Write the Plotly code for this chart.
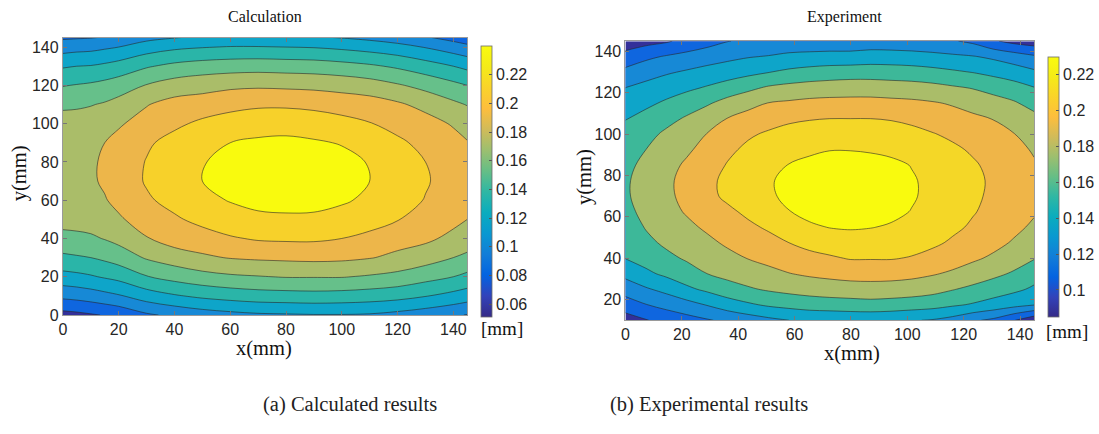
import plotly.graph_objects as go

W, H = 1099, 434

# ---------------- data ----------------
# (a) Calculation: deflection [mm]; rows follow calc_y, columns follow calc_x
calc_x = [0, 5, 10, 15, 20, 30, 40, 50, 60, 70, 80, 90, 100, 110, 120, 130, 140, 145]
calc_y = [0, 10, 20, 30, 40, 50, 60, 70, 80, 90, 100, 110, 120, 130, 140, 145]
calc_z = [
    [0.053, 0.055, 0.058, 0.061, 0.065, 0.077, 0.084, 0.090, 0.094, 0.097, 0.098, 0.099, 0.099, 0.098, 0.094, 0.089, 0.083, 0.079],
    [0.085, 0.087, 0.090, 0.094, 0.098, 0.110, 0.118, 0.124, 0.128, 0.131, 0.132, 0.133, 0.132, 0.130, 0.127, 0.121, 0.114, 0.110],
    [0.113, 0.115, 0.118, 0.122, 0.126, 0.139, 0.147, 0.153, 0.157, 0.159, 0.161, 0.161, 0.161, 0.158, 0.154, 0.147, 0.140, 0.135],
    [0.136, 0.138, 0.140, 0.144, 0.149, 0.162, 0.170, 0.177, 0.181, 0.183, 0.184, 0.185, 0.184, 0.181, 0.176, 0.169, 0.160, 0.156],
    [0.154, 0.155, 0.157, 0.161, 0.166, 0.179, 0.189, 0.191, 0.198, 0.202, 0.203, 0.203, 0.200, 0.195, 0.187, 0.184, 0.175, 0.170],
    [0.167, 0.168, 0.169, 0.173, 0.178, 0.187, 0.197, 0.206, 0.212, 0.216, 0.217, 0.217, 0.214, 0.208, 0.201, 0.191, 0.185, 0.180],
    [0.174, 0.175, 0.176, 0.179, 0.184, 0.197, 0.207, 0.215, 0.221, 0.225, 0.226, 0.225, 0.222, 0.217, 0.209, 0.199, 0.190, 0.185],
    [0.177, 0.177, 0.178, 0.182, 0.187, 0.202, 0.212, 0.220, 0.226, 0.229, 0.230, 0.229, 0.226, 0.220, 0.212, 0.202, 0.191, 0.186],
    [0.177, 0.177, 0.178, 0.182, 0.187, 0.201, 0.212, 0.219, 0.225, 0.228, 0.229, 0.228, 0.225, 0.219, 0.211, 0.200, 0.191, 0.185],
    [0.175, 0.175, 0.176, 0.180, 0.185, 0.197, 0.207, 0.214, 0.220, 0.223, 0.224, 0.222, 0.219, 0.213, 0.204, 0.194, 0.187, 0.181],
    [0.169, 0.169, 0.170, 0.174, 0.178, 0.187, 0.196, 0.204, 0.209, 0.212, 0.213, 0.211, 0.207, 0.201, 0.193, 0.188, 0.178, 0.173],
    [0.156, 0.157, 0.159, 0.162, 0.167, 0.179, 0.187, 0.189, 0.194, 0.197, 0.197, 0.195, 0.191, 0.189, 0.183, 0.174, 0.164, 0.159],
    [0.139, 0.141, 0.143, 0.146, 0.150, 0.161, 0.169, 0.173, 0.176, 0.177, 0.176, 0.175, 0.173, 0.169, 0.162, 0.154, 0.145, 0.140],
    [0.118, 0.120, 0.121, 0.124, 0.128, 0.138, 0.145, 0.149, 0.151, 0.152, 0.151, 0.150, 0.147, 0.143, 0.137, 0.129, 0.120, 0.115],
    [0.091, 0.093, 0.094, 0.097, 0.100, 0.110, 0.116, 0.119, 0.121, 0.121, 0.120, 0.119, 0.116, 0.112, 0.107, 0.099, 0.090, 0.085],
    [0.077, 0.078, 0.079, 0.081, 0.084, 0.094, 0.099, 0.103, 0.104, 0.104, 0.103, 0.102, 0.099, 0.095, 0.089, 0.082, 0.073, 0.068],
]

# (b) Experiment
exp_x = [0, 7.25, 14.5, 21.75, 29, 36.25, 43.5, 50.75, 58, 65.25, 72.5, 79.75, 87, 94.25,
         101.5, 108.75, 116, 123.25, 130.5, 137.75, 145]
exp_y = [10, 17.5, 25, 32.5, 40, 47.5, 55, 62.5, 70, 77.5, 85, 92.5, 100, 107.5, 115, 122.5,
         130, 137.5, 145]
exp_z = [
    [0.087, 0.094, 0.101, 0.106, 0.111, 0.116, 0.121, 0.126, 0.130, 0.132, 0.133, 0.134, 0.134, 0.133, 0.131, 0.129, 0.124, 0.115, 0.109, 0.096, 0.082],
    [0.104, 0.112, 0.118, 0.124, 0.131, 0.139, 0.145, 0.150, 0.153, 0.156, 0.157, 0.158, 0.159, 0.158, 0.156, 0.154, 0.150, 0.146, 0.141, 0.136, 0.131],
    [0.120, 0.128, 0.135, 0.144, 0.151, 0.158, 0.163, 0.167, 0.170, 0.172, 0.174, 0.175, 0.176, 0.175, 0.174, 0.171, 0.166, 0.161, 0.156, 0.151, 0.145],
    [0.135, 0.144, 0.151, 0.158, 0.165, 0.170, 0.174, 0.178, 0.182, 0.185, 0.187, 0.189, 0.189, 0.189, 0.187, 0.184, 0.180, 0.175, 0.169, 0.163, 0.154],
    [0.148, 0.154, 0.161, 0.167, 0.173, 0.178, 0.183, 0.187, 0.191, 0.195, 0.198, 0.201, 0.201, 0.201, 0.199, 0.195, 0.190, 0.185, 0.180, 0.173, 0.166],
    [0.152, 0.161, 0.168, 0.173, 0.179, 0.185, 0.190, 0.195, 0.200, 0.205, 0.208, 0.210, 0.210, 0.209, 0.206, 0.203, 0.198, 0.192, 0.187, 0.181, 0.174],
    [0.156, 0.166, 0.173, 0.179, 0.185, 0.191, 0.197, 0.202, 0.209, 0.215, 0.218, 0.219, 0.218, 0.216, 0.212, 0.208, 0.203, 0.198, 0.192, 0.186, 0.180],
    [0.161, 0.169, 0.177, 0.184, 0.191, 0.197, 0.203, 0.210, 0.217, 0.222, 0.224, 0.225, 0.224, 0.221, 0.217, 0.212, 0.207, 0.201, 0.196, 0.190, 0.184],
    [0.163, 0.171, 0.179, 0.187, 0.196, 0.203, 0.209, 0.215, 0.221, 0.225, 0.227, 0.228, 0.227, 0.224, 0.219, 0.214, 0.209, 0.203, 0.197, 0.191, 0.185],
    [0.163, 0.171, 0.179, 0.188, 0.196, 0.204, 0.210, 0.216, 0.221, 0.225, 0.227, 0.227, 0.227, 0.224, 0.219, 0.214, 0.209, 0.203, 0.198, 0.191, 0.185],
    [0.161, 0.169, 0.177, 0.185, 0.193, 0.201, 0.207, 0.213, 0.218, 0.221, 0.224, 0.224, 0.223, 0.221, 0.217, 0.212, 0.207, 0.202, 0.196, 0.190, 0.184],
    [0.157, 0.165, 0.173, 0.180, 0.188, 0.197, 0.203, 0.208, 0.212, 0.215, 0.217, 0.217, 0.216, 0.214, 0.211, 0.207, 0.203, 0.198, 0.193, 0.187, 0.181],
    [0.152, 0.160, 0.168, 0.175, 0.183, 0.191, 0.198, 0.202, 0.206, 0.208, 0.208, 0.209, 0.208, 0.207, 0.204, 0.201, 0.197, 0.193, 0.188, 0.183, 0.176],
    [0.147, 0.153, 0.160, 0.167, 0.175, 0.183, 0.189, 0.194, 0.197, 0.199, 0.200, 0.200, 0.200, 0.199, 0.197, 0.193, 0.189, 0.186, 0.182, 0.176, 0.170],
    [0.138, 0.144, 0.150, 0.157, 0.163, 0.171, 0.177, 0.183, 0.185, 0.187, 0.188, 0.188, 0.188, 0.187, 0.186, 0.184, 0.181, 0.176, 0.172, 0.167, 0.159],
    [0.130, 0.135, 0.140, 0.144, 0.149, 0.155, 0.161, 0.167, 0.170, 0.172, 0.173, 0.174, 0.174, 0.173, 0.172, 0.170, 0.167, 0.164, 0.159, 0.154, 0.148],
    [0.117, 0.123, 0.128, 0.132, 0.136, 0.139, 0.143, 0.147, 0.151, 0.154, 0.156, 0.157, 0.157, 0.156, 0.155, 0.153, 0.150, 0.147, 0.143, 0.139, 0.133],
    [0.102, 0.109, 0.114, 0.118, 0.122, 0.126, 0.129, 0.131, 0.134, 0.135, 0.136, 0.136, 0.138, 0.138, 0.137, 0.135, 0.133, 0.131, 0.127, 0.121, 0.115],
    [0.084, 0.089, 0.093, 0.100, 0.106, 0.112, 0.115, 0.116, 0.118, 0.119, 0.119, 0.119, 0.120, 0.119, 0.118, 0.117, 0.114, 0.109, 0.097, 0.090, 0.086],
]

calc_levels = dict(start=0.06, end=0.22, size=0.02)
exp_levels = dict(start=0.095, end=0.2175, size=0.0175)
calc_range = [0.051, 0.240]
exp_range = [0.085, 0.230]

left_ticks = [0.06, 0.08, 0.1, 0.12, 0.14, 0.16, 0.18, 0.2, 0.22]
left_ticktext = ['0.06', '0.08', '0.1', '0.12', '0.14', '0.16', '0.18', '0.2', '0.22']
right_ticks = [0.1, 0.12, 0.14, 0.16, 0.18, 0.2, 0.22]
right_ticktext = ['0.1', '0.12', '0.14', '0.16', '0.18', '0.2', '0.22']
axis_ticks = [0, 20, 40, 60, 80, 100, 120, 140]

# ---------------- colours (parula) ----------------
parula = [
    (0.2081, 0.1663, 0.5292), (0.1959, 0.2645, 0.7279), (0.0117, 0.3875, 0.8820),
    (0.0723, 0.4887, 0.8467), (0.0343, 0.5966, 0.8199), (0.0384, 0.6743, 0.7436),
    (0.1801, 0.7177, 0.6424), (0.3953, 0.7459, 0.5244), (0.6099, 0.7473, 0.4337),
    (0.8185, 0.7327, 0.3498), (0.9938, 0.7455, 0.2403), (0.9789, 0.8271, 0.1633),
    (0.9598, 0.9218, 0.0948), (0.9763, 0.9831, 0.0538)]
parula_cs = [[i / (len(parula) - 1), 'rgb(%d,%d,%d)' % tuple(int(round(c * 255)) for c in p)]
             for i, p in enumerate(parula)]

left_bands = ['#33309A', '#0F66DF', '#1789D6', '#0EA5C9', '#2AB5A8', '#66C08A',
              '#AABD69', '#EDB64A', '#F7D12A', '#F9FA0E']
right_bands = ['#33309A', '#0F66DF', '#1789D6', '#0EA5C9', '#3DB899',
               '#AABD69', '#EFB548', '#F4D727', '#F9FA0E']

def band_scale(cols):
    n = len(cols) - 1
    return [[i / n, c] for i, c in enumerate(cols)]

fig = go.Figure()

line_style = dict(color='rgba(40,40,40,0.85)', width=0.7, smoothing=1)

fig.add_trace(go.Contour(
    x=calc_x, y=calc_y, z=calc_z, xaxis='x', yaxis='y', autocontour=False,
    contours=dict(coloring='fill', **calc_levels),
    colorscale=band_scale(left_bands), showscale=False, line=line_style, hoverinfo='skip'))

fig.add_trace(go.Contour(
    x=exp_x, y=exp_y, z=exp_z, xaxis='x2', yaxis='y2', autocontour=False,
    contours=dict(coloring='fill', **exp_levels),
    colorscale=band_scale(right_bands), showscale=False, line=line_style, hoverinfo='skip'))

def cbar_trace(xa, ya, crange, x0, ytop, length, tv, tt):
    return go.Scatter(
        x=[None], y=[None], xaxis=xa, yaxis=ya, mode='markers', showlegend=False,
        hoverinfo='skip',
        marker=dict(color=[crange[0]], colorscale=parula_cs, cmin=crange[0], cmax=crange[1],
                    showscale=True,
                    colorbar=dict(x=x0 / W, xanchor='left', y=1 - ytop / H, yanchor='top',
                                  len=length, lenmode='pixels', thickness=11,
                                  thicknessmode='pixels', xpad=0, ypad=0,
                                  outlinecolor='#6b6b6b', outlinewidth=0.8,
                                  tickvals=tv, ticktext=tt, ticks='inside', ticklen=3,
                                  tickcolor='#555555',
                                  tickfont=dict(family='Liberation Sans, Arial', size=16,
                                                color='#262626'))))

fig.add_trace(cbar_trace('x', 'y', calc_range, 481, 47, 271, left_ticks, left_ticktext))
fig.add_trace(cbar_trace('x2', 'y2', exp_range, 1052, 58, 260, right_ticks, right_ticktext))

ax_common = dict(showline=True, linecolor='#9a9a9a', linewidth=1, mirror='ticks', ticks='inside',
                 ticklen=4, tickcolor='#777777', showgrid=False, zeroline=False,
                 tickfont=dict(family='Liberation Sans, Arial', size=16, color='#262626'),
                 tickvals=axis_ticks)

fig.update_layout(
    width=W, height=H, margin=dict(l=0, r=0, t=0, b=0),
    paper_bgcolor='white', plot_bgcolor='white', showlegend=False,
    xaxis=dict(domain=[59.3 / W, 466.7 / W], range=[0, 145], anchor='y', **ax_common),
    yaxis=dict(domain=[1 - 321.7 / H, 1 - 38.3 / H], range=[0, 145], anchor='x', **ax_common),
    xaxis2=dict(domain=[626 / W, 1037.7 / W], range=[0, 145], anchor='y2', **ax_common),
    yaxis2=dict(domain=[1 - 327 / H, 1 - 42 / H], range=[10, 145], anchor='x2', **ax_common),
)

serif = 'Liberation Serif, Times New Roman, serif'

def txt(x, y, s, size, angle=0, color='#111111'):
    fig.add_annotation(x=x / W, y=1 - y / H, xref='paper', yref='paper', text=s,
                       showarrow=False, textangle=angle, xanchor='center', yanchor='middle',
                       font=dict(family=serif, size=size, color=color))

txt(263, 17, 'Calculation', 16)
txt(847, 17, 'Experiment', 16)
txt(262, 356, 'x(mm)', 20.5)
txt(854, 361, 'x(mm)', 20.5)
txt(15, 177, 'y(mm)', 20.5, -90)
txt(585, 181, 'y(mm)', 20.5, -90)
txt(502, 335, '[mm]', 19)
txt(1071, 339, '[mm]', 19)
txt(349, 413, '(a) Calculated results', 20.5, color='#222222')
txt(710, 413, '(b) Experimental results', 20.5, color='#222222')

fig.write_html('out.html')
